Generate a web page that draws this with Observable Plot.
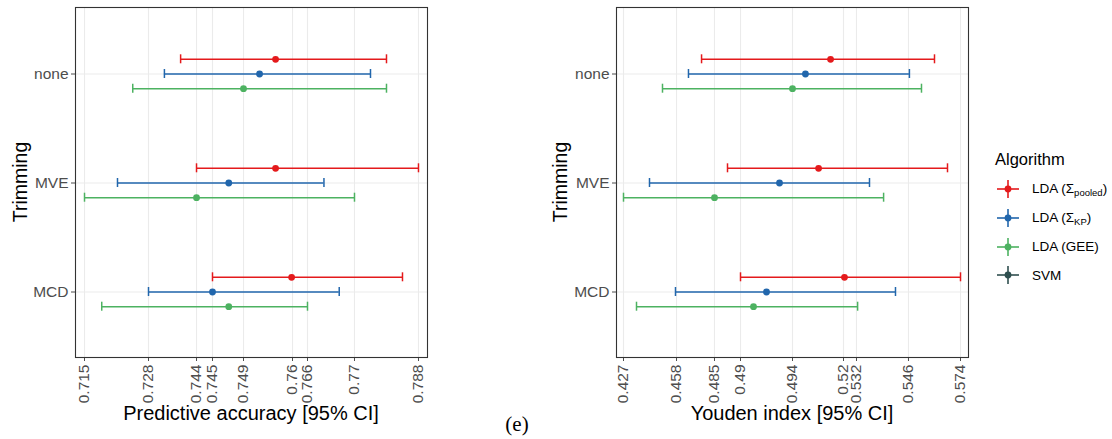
<!DOCTYPE html>
<html>
<head>
<meta charset="utf-8">
<script src="https://cdn.jsdelivr.net/npm/d3@7"></script>
<script src="https://cdn.jsdelivr.net/npm/@observablehq/plot@0.6"></script>
<style>
  body { margin: 0; background: #fff; }
  #root { position: relative; width: 1112px; height: 439px; font-family: "Liberation Sans", Arial, sans-serif; overflow: hidden; }
  .panel { position: absolute; top: 0; }
  .title { position: absolute; color: #000; white-space: nowrap; }
  .ytitle { font-size: 19.5px; transform: translate(-50%, -50%) rotate(-90deg); }
  .xtitle { font-size: 20px; transform: translate(-50%, -50%); }
  #caption { position: absolute; left: 517px; top: 424px; transform: translate(-50%, -50%); font-family: "Liberation Serif", "DejaVu Serif", serif; font-size: 21px; }
  #legend { position: absolute; left: 995px; top: 150px; }
  #legend .ltitle { font-size: 16.5px; color: #000; margin-bottom: 6px; }
  #legend .item { display: flex; align-items: center; height: 28.7px; font-size: 13.5px; color: #000; }
  #legend .item svg { margin-right: 12px; margin-left: 1px; }
  #legend sub { font-size: 9.5px; vertical-align: -3px; }
</style>
</head>
<body>
<div id="root"></div>
<script>
// ---------------- data ----------------
const trimming = ["none", "MVE", "MCD"];
const algorithms = ["LDA (Σpooled)", "LDA (ΣKP)", "LDA (GEE)", "SVM"];
const algorithmColors = ["#E41A1C", "#2166AC", "#4DB261", "#2F4F4F"];

// Predictive accuracy: [lower, estimate, upper] for none, MVE, MCD
const accuracyPooled = [[0.7387, 0.7562, 0.779], [0.744, 0.7562, 0.788], [0.745, 0.7598, 0.7835]];
const accuracyKP     = [[0.7333, 0.7526, 0.7745], [0.7217, 0.7471, 0.7674], [0.728, 0.745, 0.7687]];
const accuracyGEE    = [[0.7248, 0.749, 0.779], [0.715, 0.744, 0.770], [0.7185, 0.7471, 0.766]];

// Youden index: [lower, estimate, upper] for none, MVE, MCD
const youdenPooled = [[0.4758, 0.5134, 0.560], [0.4875, 0.5073, 0.567], [0.490, 0.5209, 0.574]];
const youdenKP     = [[0.4665, 0.5006, 0.5465], [0.4422, 0.493, 0.5355], [0.4574, 0.492, 0.5425]];
const youdenGEE    = [[0.4498, 0.494, 0.553], [0.427, 0.485, 0.5393], [0.4346, 0.491, 0.5323]];

// axis tick values and labels (the axes are non-linear: ticks are placed unevenly)
const accuracyTicks = [0.715, 0.728, 0.744, 0.745, 0.749, 0.76, 0.766, 0.77, 0.788];
const accuracyTickLabels = ["0.715", "0.728", "0.744", "0.745", "0.749", "0.76", "0.766", "0.77", "0.788"];
const youdenTicks = [0.427, 0.458, 0.485, 0.49, 0.494, 0.52, 0.532, 0.546, 0.574];
const youdenTickLabels = ["0.427", "0.458", "0.485", "0.49", "0.494", "0.52", "0.532", "0.546", "0.574"];

// ---------------- build ----------------
function rows(seriesList) {
  const out = [];
  seriesList.forEach((series, a) => {
    series.forEach((v, t) => out.push({trim: trimming[t], algo: algorithms[a], ai: a, lo: v[0], est: v[1], hi: v[2]}));
  });
  return out;
}

// scale layout config: fractional placement of each tick across the panel frame
const accuracyTickFrac = [0.0256, 0.2074, 0.3438, 0.3892, 0.4773, 0.6165, 0.6591, 0.7926, 0.9744];
const youdenTickFrac = [0.0199, 0.1705, 0.2784, 0.3523, 0.5, 0.6449, 0.6818, 0.8295, 0.9773];

function panel({data, ticks, labels, frac, marginLeft, marginRight, width}) {
  const height = 439, marginTop = 7, marginBottom = 82;
  const fw = width - marginLeft - marginRight;
  const fh = height - marginTop - marginBottom;
  const offsets = [-14.7, 0, 14.7];
  // band scale whose band centres match ggplot's discrete axis (0.6 step expansion)
  const capLen = 9;
  const step = fh / 3.2;
  const pInner = 1 - capLen / step;
  const pOuter = (0.2 + pInner) / 2;
  const marks = [
    Plot.ruleX(ticks, {stroke: "#EBEBEB", strokeWidth: 1.1}),
    Plot.ruleY(trimming, {y: d => d, stroke: "#EBEBEB", strokeWidth: 1.1})
  ];
  [0, 1, 2].forEach(a => {
    const d = data.filter(r => r.ai === a);
    const c = algorithmColors[a];
    const dy = offsets[a];
    marks.push(
      Plot.ruleY(d, {y: "trim", x1: "lo", x2: "hi", stroke: c, strokeWidth: 1.5, dy}),
      Plot.tickX(d, {x: "lo", y: "trim", stroke: c, strokeWidth: 1.5, dy}),
      Plot.tickX(d, {x: "hi", y: "trim", stroke: c, strokeWidth: 1.5, dy}),
      Plot.dot(d, {x: "est", y: "trim", fill: c, r: 3.4, dy})
    );
  });
  marks.push(Plot.frame({stroke: "#333", strokeWidth: 1.1}));
  return Plot.plot({
    width, height, marginLeft, marginRight, marginTop, marginBottom,
    style: {fontSize: "15.5px", fontFamily: "'Liberation Sans', Arial, sans-serif", color: "#4D4D4D", background: "transparent", overflow: "visible"},
    x: {type: "linear", domain: ticks, range: frac.map(f => marginLeft + f * fw), ticks, tickFormat: (d) => labels[ticks.indexOf(d)], tickRotate: -90, tickSize: 4, tickPadding: 3, label: null},
    y: {type: "band", domain: trimming, paddingInner: pInner, paddingOuter: pOuter, tickSize: 4, tickPadding: 3, label: null},
    marks
  });
}

const root = document.getElementById("root");

const left = panel({data: rows([accuracyPooled, accuracyKP, accuracyGEE]), ticks: accuracyTicks, labels: accuracyTickLabels, frac: accuracyTickFrac, marginLeft: 75, marginRight: 13, width: 440});
left.classList.add("panel"); left.style.left = "0px";
root.appendChild(left);

const right = panel({data: rows([youdenPooled, youdenKP, youdenGEE]), ticks: youdenTicks, labels: youdenTickLabels, frac: youdenTickFrac, marginLeft: 76, marginRight: 12, width: 440});
right.classList.add("panel"); right.style.left = "540px";
root.appendChild(right);

function addText(cls, text, x, y) {
  const el = document.createElement("div");
  el.className = "title " + cls;
  el.textContent = text;
  el.style.left = x + "px"; el.style.top = y + "px";
  root.appendChild(el);
}
addText("ytitle", "Trimming", 20, 182);
addText("ytitle", "Trimming", 560, 182);
addText("xtitle", "Predictive accuracy [95% CI]", 251, 413);
addText("xtitle", "Youden index [95% CI]", 792, 413);

const cap = document.createElement("div");
cap.id = "caption"; cap.textContent = "(e)";
root.appendChild(cap);

// legend
const legend = document.createElement("div");
legend.id = "legend";
const lt = document.createElement("div");
lt.className = "ltitle"; lt.textContent = "Algorithm";
legend.appendChild(lt);
const legendHtml = [
  "LDA (Σ<sub>pooled</sub>)",
  "LDA (Σ<sub>KP</sub>)",
  "LDA (GEE)",
  "SVM"
];
algorithms.forEach((name, i) => {
  const item = document.createElement("div");
  item.className = "item";
  const c = algorithmColors[i];
  item.innerHTML = `<svg width="24" height="20" viewBox="0 0 24 20"><line x1="1" x2="23" y1="10" y2="10" stroke="${c}" stroke-width="1.6"/><line x1="12" x2="12" y1="1" y2="19" stroke="${c}" stroke-width="1.6"/><circle cx="12" cy="10" r="3.4" fill="${c}"/></svg><span>${legendHtml[i]}</span>`;
  legend.appendChild(item);
});
root.appendChild(legend);
</script>
</body>
</html>
